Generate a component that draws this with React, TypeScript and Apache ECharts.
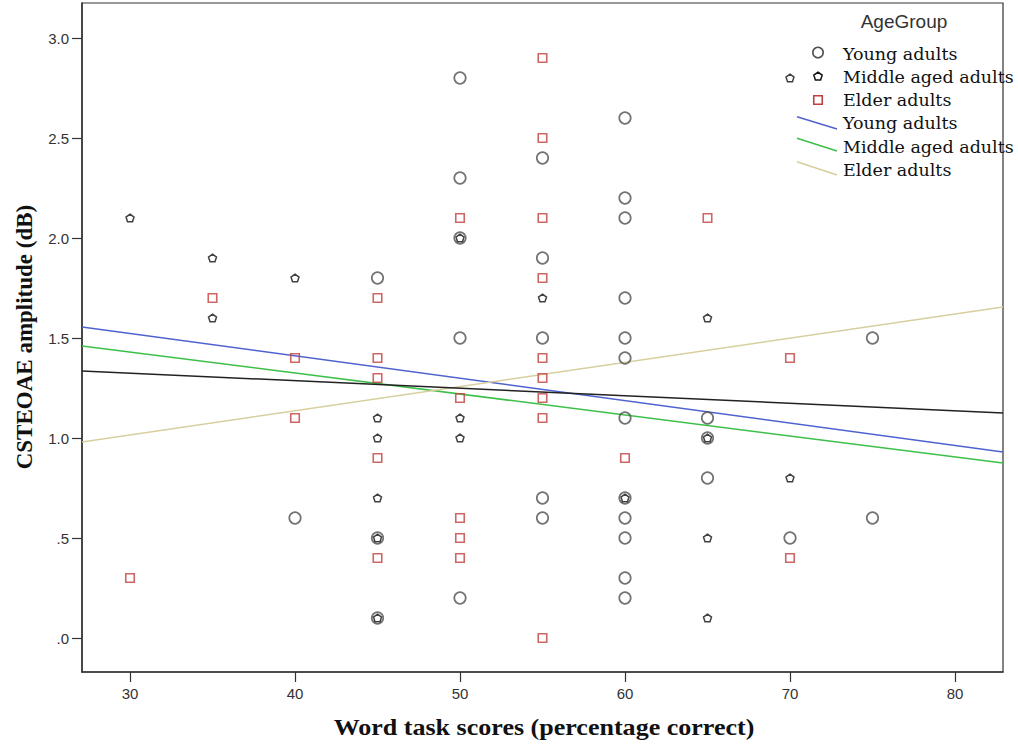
import React, { useEffect, useRef } from "react";
import * as echarts from "echarts";

// ---- data ----
const youngPoints: [number, number][] = [
  [40, 0.6], [45, 1.8], [45, 0.5], [45, 0.1],
  [50, 2.8], [50, 2.3], [50, 2.0], [50, 1.5], [50, 0.2],
  [55, 2.4], [55, 1.9], [55, 1.5], [55, 0.7], [55, 0.6],
  [60, 2.6], [60, 2.2], [60, 2.1], [60, 1.7], [60, 1.5], [60, 1.4], [60, 1.1],
  [60, 0.7], [60, 0.6], [60, 0.5], [60, 0.3], [60, 0.2],
  [65, 1.1], [65, 1.0], [65, 0.8], [70, 0.5], [75, 1.5], [75, 0.6],
];
const middlePoints: [number, number][] = [
  [30, 2.1], [35, 1.9], [35, 1.6], [40, 1.8],
  [45, 1.1], [45, 1.0], [45, 0.7], [45, 0.5], [45, 0.1],
  [50, 2.0], [50, 1.1], [50, 1.0], [55, 1.7], [60, 0.7],
  [65, 1.6], [65, 1.0], [65, 0.5], [65, 0.1], [70, 2.8], [70, 0.8],
];
const elderPoints: [number, number][] = [
  [30, 0.3], [35, 1.7], [40, 1.4], [40, 1.1],
  [45, 1.7], [45, 1.4], [45, 1.3], [45, 0.9], [45, 0.4],
  [50, 2.1], [50, 1.2], [50, 0.6], [50, 0.5], [50, 0.4],
  [55, 2.9], [55, 2.5], [55, 2.1], [55, 1.8], [55, 1.4], [55, 1.3], [55, 1.2], [55, 1.1], [55, 0.0],
  [60, 0.9], [65, 2.1], [70, 1.4], [70, 0.4],
];
// fit lines: values at the left and right edges of the plot
const fitX = [27.09, 82.91];
const youngFit = [1.555, 0.93];
const middleFit = [1.46, 0.875];
const elderFit = [0.98, 1.655];
const totalFit = [1.335, 1.125];

const xTicks = [30, 40, 50, 60, 70, 80];
const yTicks = [0, 0.5, 1.0, 1.5, 2.0, 2.5, 3.0];
const groupNames = ["Young adults", "Middle aged adults", "Elder adults"];

const PENTAGON = "path://M0,-10L9.51,-3.09L5.88,8.09L-5.88,8.09L-9.51,-3.09Z";
const C_YOUNG = "#505050";
const C_MIDDLE = "#111111";
const C_ELDER = "#c0403f";
const L_YOUNG = "#4f63cf";
const L_MIDDLE = "#3cc049";
const L_ELDER = "#d8cf9f";
const L_TOTAL = "#222222";

function pentagonPoints(cx: number, cy: number, r: number) {
  const pts: number[][] = [];
  for (let i = 0; i < 5; i++) {
    const a = -Math.PI / 2 + (i * 2 * Math.PI) / 5;
    pts.push([cx + r * Math.cos(a), cy + r * Math.sin(a)]);
  }
  return pts;
}

export default function App() {
  const ref = useRef<HTMLDivElement>(null);
  useEffect(() => {
    if (!ref.current) return;
    const chart = echarts.init(ref.current, undefined, { renderer: "svg" });
    const legendFont = "17.5px 'DejaVu Serif', 'Liberation Serif', serif";
    const rowY = [53.5, 76.5, 100, 123, 146.5, 169.5];
    const textX = 843;
    const symX = 818;
    const lineSeg = (y0: number, y1: number, color: string) => ({
      type: "line",
      shape: { x1: 797, y1: y0, x2: 837, y2: y1 },
      style: { stroke: color, lineWidth: 1.5 },
    });
    const legendText = (i: number, t: string) => ({
      type: "text",
      x: textX,
      y: rowY[i],
      style: {
        text: t,
        font: legendFont,
        fill: "#111",
        align: "left",
        verticalAlign: "middle",
        textAlign: "left",
        textVerticalAlign: "middle",
      },
    });
    chart.setOption({
      animation: false,
      backgroundColor: "#ffffff",
      grid: {
        left: 82,
        right: 15,
        top: 3,
        bottom: 72,
        show: true,
        borderColor: "#333",
        borderWidth: 1.2,
        backgroundColor: "transparent",
      },
      xAxis: {
        type: "value",
        min: fitX[0],
        max: fitX[1],
        splitLine: { show: false },
        axisLine: { show: true, onZero: false, lineStyle: { color: "#333", width: 1.5 } },
        axisTick: { show: true, length: 10, customValues: xTicks, lineStyle: { color: "#333", width: 1.2 } },
        axisLabel: {
          customValues: xTicks,
          margin: 14,
          fontSize: 15,
          fontFamily: "'Liberation Sans', Arial, sans-serif",
          color: "#333",
        },
      },
      yAxis: {
        type: "value",
        min: -0.17,
        max: 3.175,
        splitLine: { show: false },
        axisLine: { show: true, onZero: false, lineStyle: { color: "#333", width: 1.5 } },
        axisTick: { show: true, length: 10, customValues: yTicks, lineStyle: { color: "#333", width: 1.2 } },
        axisLabel: {
          customValues: yTicks,
          margin: 13,
          fontSize: 15,
          fontFamily: "'Liberation Sans', Arial, sans-serif",
          color: "#333",
          formatter: (v: number) => v.toFixed(1).replace(/^0\./, "."),
        },
      },
      series: [
        {
          type: "scatter",
          name: groupNames[0],
          data: youngPoints,
          symbol: "circle",
          symbolSize: 11.5,
          itemStyle: { color: "transparent", borderColor: C_YOUNG, borderWidth: 1.7 },
          z: 3,
        },
        {
          type: "scatter",
          name: groupNames[1],
          data: middlePoints,
          symbol: PENTAGON,
          symbolKeepAspect: true,
          symbolSize: 8,
          itemStyle: { color: "transparent", borderColor: C_MIDDLE, borderWidth: 1.5 },
          z: 3,
        },
        {
          type: "scatter",
          name: groupNames[2],
          data: elderPoints,
          symbol: "rect",
          symbolSize: 8.5,
          itemStyle: { color: "transparent", borderColor: C_ELDER, borderWidth: 1.6 },
          z: 3,
        },
        ...[
          [youngFit, L_YOUNG],
          [middleFit, L_MIDDLE],
          [elderFit, L_ELDER],
          [totalFit, L_TOTAL],
        ].map(([vals, color]) => ({
          type: "line",
          data: fitX.map((x, i) => [x, (vals as number[])[i]]),
          symbol: "none",
          lineStyle: { color: color as string, width: 1.5 },
          z: 2,
          silent: true,
        })),
      ],
      graphic: [
        {
          type: "text",
          x: 904,
          y: 21.5,
          style: {
            text: "AgeGroup",
            font: "19px 'Liberation Sans', Arial, sans-serif",
            fill: "#333",
            align: "center",
            verticalAlign: "middle",
            textAlign: "center",
            textVerticalAlign: "middle",
          },
        },
        {
          type: "circle",
          shape: { cx: symX, cy: rowY[0] - 1, r: 5.2 },
          style: { fill: "transparent", stroke: C_YOUNG, lineWidth: 1.6 },
        },
        {
          type: "polygon",
          shape: { points: pentagonPoints(symX, rowY[1], 4.4) },
          style: { fill: "transparent", stroke: C_MIDDLE, lineWidth: 1.5 },
        },
        {
          type: "rect",
          shape: { x: symX - 4.25, y: rowY[2] - 4.25, width: 8.5, height: 8.5 },
          style: { fill: "transparent", stroke: C_ELDER, lineWidth: 1.6 },
        },
        lineSeg(116.7, 129, L_YOUNG),
        lineSeg(138.3, 151, L_MIDDLE),
        lineSeg(161.7, 175, L_ELDER),
        legendText(0, groupNames[0]),
        legendText(1, groupNames[1]),
        legendText(2, groupNames[2]),
        legendText(3, groupNames[0]),
        legendText(4, groupNames[1]),
        legendText(5, groupNames[2]),
        {
          type: "text",
          x: 544,
          y: 727,
          scaleX: 1.085,
          style: {
            text: "Word task scores (percentage correct)",
            font: "bold 24px 'Liberation Serif', 'Times New Roman', serif",
            fill: "#111",
            align: "center",
            verticalAlign: "middle",
            textAlign: "center",
            textVerticalAlign: "middle",
          },
        },
        {
          type: "text",
          x: 24,
          y: 337,
          rotation: Math.PI / 2,
          style: {
            text: "CSTEOAE amplitude (dB)",
            font: "bold 23px 'Liberation Serif', 'Times New Roman', serif",
            fill: "#111",
            align: "center",
            verticalAlign: "middle",
            textAlign: "center",
            textVerticalAlign: "middle",
          },
        },
      ],
    });
    return () => chart.dispose();
  }, []);
  return (
    <div
      ref={ref}
      style={{ position: "absolute", left: 0, top: 0, width: 1018, height: 744 }}
    />
  );
}
